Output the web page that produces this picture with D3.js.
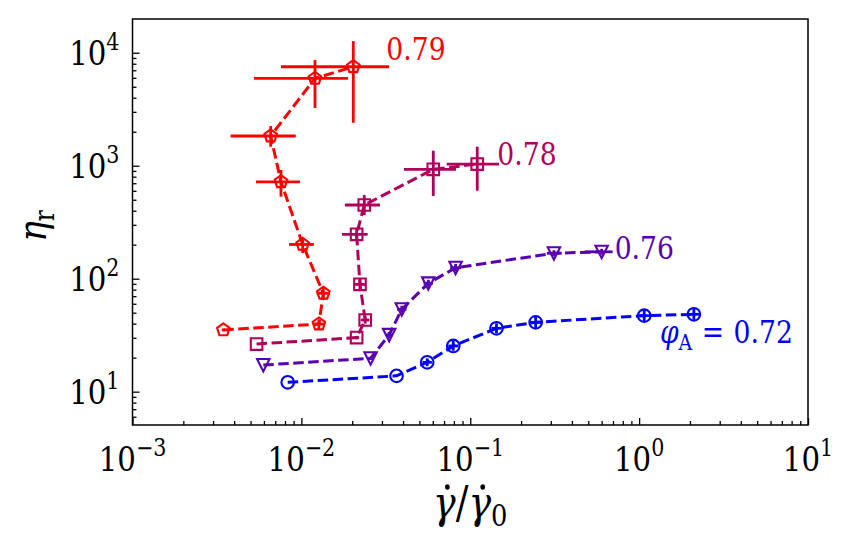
<!doctype html>
<html>
<head>
<meta charset="UTF-8">
<title>eta_r vs shear rate</title>
<style>
	body { margin: 0; background: #fff; }
	svg text { font-family: "DejaVu Serif"; }
	.axis path { display: none; }
	.axis line { stroke: #000; stroke-width: 1.3; }
</style>
</head>
<body>
<script src="https://cdn.jsdelivr.net/npm/d3@7"></script>
<script>
	var w = 850,
		h = 549,
		narrow = 0.86; // DejaVu Serif is wider than the TeX font of the original

	// phi_A = 0.72 (blue circles)
	var rate072 = [0.0083, 0.0366, 0.0556, 0.0793, 0.143, 0.244, 1.072, 2.11];
	var eta072 = [12.1, 13.8, 18.2, 25.4, 36.4, 41.1, 47.1, 48.4];
	var rateLo072 = [0.0083, 0.0366, 0.0522, 0.0741, 0.134, 0.225, 0.985, 1.94];
	var rateHi072 = [0.0083, 0.0366, 0.0593, 0.0849, 0.153, 0.265, 1.165, 2.30];
	var etaLo072 = [12.1, 13.8, 16.8, 23.0, 32.9, 36.6, 42.0, 43.2];
	var etaHi072 = [12.1, 13.8, 19.7, 28.1, 40.3, 46.1, 52.8, 54.3];

	// phi_A = 0.76 (violet down triangles)
	var rate076 = [0.00595, 0.0257, 0.0331, 0.0393, 0.0564, 0.0819, 0.313, 0.600];
	var eta076 = [17.2, 19.75, 31.8, 53.6, 91, 125, 168, 173];
	var rateLo076 = [0.00595, 0.0250, 0.0314, 0.0369, 0.0529, 0.0760, 0.284, 0.477];
	var rateHi076 = [0.00595, 0.0264, 0.0349, 0.0419, 0.0601, 0.0883, 0.348, 0.697];
	var etaLo076 = [17.2, 19.2, 29.9, 49.9, 84.7, 116, 158, 163];
	var etaHi076 = [17.2, 20.3, 33.8, 57.6, 97.8, 135, 179, 184];

	// phi_A = 0.78 (magenta squares)
	var rate078 = [0.00543, 0.02124, 0.02388, 0.02223, 0.02124, 0.02358, 0.0604, 0.110];
	var eta078 = [26.4, 30.1, 43.1, 89.1, 247, 449, 930, 1035];
	var rateLo078 = [0.00543, 0.0205, 0.0225, 0.0205, 0.01739, 0.01811, 0.0405, 0.0725];
	var rateHi078 = [0.00543, 0.0220, 0.0253, 0.0241, 0.0247, 0.0292, 0.0823, 0.148];
	var etaLo078 = [26.4, 29.0, 40.0, 79.4, 220, 366, 540, 601];
	var etaHi078 = [26.4, 31.2, 46.5, 101, 281, 550, 1358, 1473];

	// phi_A = 0.79 (red pentagons)
	var rate079 = [0.00345, 0.0127, 0.01349, 0.01018, 0.00757, 0.00658, 0.01204, 0.0203];
	var eta079 = [35.2, 39.7, 74.3, 201, 721, 1833, 5935, 7516];
	var rateLo079 = [0.00338, 0.01172, 0.01232, 0.00845, 0.00539, 0.00381, 0.00524, 0.00757];
	var rateHi079 = [0.00352, 0.01379, 0.01477, 0.01187, 0.00981, 0.00926, 0.0189, 0.0331];
	var etaLo079 = [34.5, 35.9, 64.8, 168.8, 532, 1473, 3240, 2400];
	var etaHi079 = [36.0, 43.1, 84.4, 230.7, 917, 2244, 8617, 12690];

	var phiLabels = ['0.72', '0.76', '0.78', '0.79'];
	var colors = ['#0000ff', '#5a00b4', '#b0005c', '#ff0000'];
	var markerTypes = ['circle', 'tridown', 'square', 'pentagon'];

	var xMajor = [1e-3, 1e-2, 1e-1, 1e0, 1e1];
	var xMajorExp = ['\u22123', '\u22122', '\u22121', '0', '1'];
	var yMajor = [1e1, 1e2, 1e3, 1e4];
	var yMajorExp = ['1', '2', '3', '4'];

	var series = [
		{rate: rate072, eta: eta072, rLo: rateLo072, rHi: rateHi072, eLo: etaLo072, eHi: etaHi072},
		{rate: rate076, eta: eta076, rLo: rateLo076, rHi: rateHi076, eLo: etaLo076, eHi: etaHi076},
		{rate: rate078, eta: eta078, rLo: rateLo078, rHi: rateHi078, eLo: etaLo078, eHi: etaHi078},
		{rate: rate079, eta: eta079, rLo: rateLo079, rHi: rateHi079, eLo: etaLo079, eHi: etaHi079}
	];
	series.forEach(function(s, i) {
		s.label = phiLabels[i];
		s.color = colors[i];
		s.marker = markerTypes[i];
		s.points = s.rate.map(function(r, j) {
			return {x: r, y: s.eta[j], xlo: s.rLo[j], xhi: s.rHi[j], ylo: s.eLo[j], yhi: s.eHi[j]};
		});
	});

	var plot = {left: 132.5, right: 808, top: 19, bottom: 425};

	var x = d3.scaleLog().domain([1e-3, 1e1]).range([plot.left, plot.right]);
	var y = d3.scaleLog().domain([5.07, 1.99e4]).range([plot.bottom, plot.top]);

	var svg = d3.select('body').append('svg')
		.attr('width', w)
		.attr('height', h);

	// place a text at (px, py), squeezed horizontally
	var at = function(px, py) {
		return 'translate(' + px + ',' + py + ') scale(' + narrow + ',1)';
	};

	// minor tick values
	var minorTicks = function(domain) {
		var out = [];
		var lo = Math.floor(Math.log10(domain[0])),
			hi = Math.ceil(Math.log10(domain[1]));
		for (var e = lo; e < hi; e++) {
			for (var k = 2; k < 10; k++) {
				var v = k * Math.pow(10, e);
				if (v >= domain[0] && v <= domain[1]) out.push(v);
			}
		}
		return out;
	};

	var gx = svg.append('g').attr('class', 'axis').attr('transform', 'translate(0,' + plot.bottom + ')');
	gx.call(d3.axisBottom(x).tickValues(xMajor).tickSize(-7).tickFormat(''));
	gx.append('g').call(d3.axisBottom(x).tickValues(minorTicks(x.domain())).tickSize(-4).tickFormat(''));

	var gy = svg.append('g').attr('class', 'axis').attr('transform', 'translate(' + plot.left + ',0)');
	gy.call(d3.axisLeft(y).tickValues(yMajor).tickSize(-7).tickFormat(''));
	gy.append('g').call(d3.axisLeft(y).tickValues(minorTicks(y.domain())).tickSize(-4).tickFormat(''));

	// tick labels 10^n
	var xl = svg.selectAll('.xlab').data(xMajor).enter().append('text')
		.attr('class', 'xlab')
		.attr('transform', function(d) { return at(x(d), plot.bottom + 46); })
		.attr('text-anchor', 'middle')
		.style('font-size', '34px');
	xl.append('tspan').text('10');
	xl.append('tspan').attr('dy', -15).style('font-size', '24px').text(function(d, i) { return xMajorExp[i]; });

	var yl = svg.selectAll('.ylab').data(yMajor).enter().append('text')
		.attr('class', 'ylab')
		.attr('transform', function(d) { return at(plot.left - 13, y(d) + 12); })
		.attr('text-anchor', 'end')
		.style('font-size', '34px');
	yl.append('tspan').text('10');
	yl.append('tspan').attr('dy', -15).style('font-size', '24px').text(function(d, i) { return yMajorExp[i]; });

	// marker shapes
	var polygon = function(n, r, rot) {
		var pts = d3.range(n).map(function(k) {
			var a = rot + k * 2 * Math.PI / n;
			return [r * Math.sin(a), -r * Math.cos(a)];
		});
		return 'M' + pts.join('L') + 'Z';
	};
	var markerPath = function(type) {
		if (type === 'circle') return d3.symbol().type(d3.symbolCircle).size(Math.PI * 6.3 * 6.3)();
		if (type === 'square') return 'M-5.8,-5.8H5.8V5.8H-5.8Z';
		if (type === 'tridown') return 'M-6.2,-6H6.2L0,6.4Z';
		return polygon(5, 6.6, 0);
	};

	var line = d3.line()
		.x(function(d) { return x(d.x); })
		.y(function(d) { return y(d.y); });

	var gs = svg.selectAll('.series').data(series).enter().append('g').attr('class', 'series');

	gs.append('path')
		.attr('d', function(s) { return line(s.points); })
		.attr('fill', 'none')
		.attr('stroke', function(s) { return s.color; })
		.attr('stroke-width', 3)
		.attr('stroke-dasharray', '10.5,4.5');

	gs.each(function(s) {
		var g = d3.select(this);
		var pts = s.points.filter(function(d) { return d.xhi > d.xlo || d.yhi > d.ylo; });
		g.selectAll('.xerr').data(pts).enter().append('line')
			.attr('x1', function(d) { return x(d.xlo); })
			.attr('x2', function(d) { return x(d.xhi); })
			.attr('y1', function(d) { return y(d.y); })
			.attr('y2', function(d) { return y(d.y); })
			.attr('stroke', s.color).attr('stroke-width', 2.8);
		g.selectAll('.yerr').data(pts).enter().append('line')
			.attr('x1', function(d) { return x(d.x); })
			.attr('x2', function(d) { return x(d.x); })
			.attr('y1', function(d) { return y(d.ylo); })
			.attr('y2', function(d) { return y(d.yhi); })
			.attr('stroke', s.color).attr('stroke-width', 2.8);
		g.selectAll('.mk').data(s.points).enter().append('path')
			.attr('transform', function(d) { return 'translate(' + x(d.x) + ',' + y(d.y) + ')'; })
			.attr('d', markerPath(s.marker))
			.attr('fill', 'none')
			.attr('stroke', s.color)
			.attr('stroke-width', 2.1);
	});

	// phi labels next to the last point of each series
	var labelOffsets = [[-34, 29], [13, 7], [20, 1], [33, -7]];
	gs.append('text')
		.attr('transform', function(s, i) {
			var p = s.points[s.points.length - 1];
			return at(x(p.x) + labelOffsets[i][0], y(p.y) + labelOffsets[i][1]);
		})
		.attr('fill', function(s) { return s.color; })
		.style('font-size', '31px')
		.each(function(s, i) {
			var t = d3.select(this);
			if (i === 0) {
				t.append('tspan').style('font-style', 'italic').text('\u03c6');
				t.append('tspan').attr('dy', 7).style('font-size', '22px').text('A');
				t.append('tspan').attr('dy', -7).attr('dx', 11).text('=');
				t.append('tspan').attr('dx', 11).text(s.label);
			} else {
				t.text(s.label);
			}
		});

	// frame
	svg.append('rect')
		.attr('x', plot.left).attr('y', plot.top)
		.attr('width', plot.right - plot.left).attr('height', plot.bottom - plot.top)
		.attr('fill', 'none').attr('stroke', '#000').attr('stroke-width', 1.5);

	// axis titles
	var xt = svg.append('text')
		.attr('transform', at((plot.left + plot.right) / 2, 518))
		.attr('text-anchor', 'middle')
		.style('font-size', '44px');
	xt.append('tspan').style('font-style', 'italic').text('\u03b3');
	xt.append('tspan').text('/');
	xt.append('tspan').style('font-style', 'italic').text('\u03b3');
	xt.append('tspan').attr('dy', 8).style('font-size', '30px').text('0');

	// dots over the two gammas (same squeezed frame as the title)
	var xtNode = xt.node();
	[0, 2].forEach(function(ci) {
		var a = xtNode.getStartPositionOfChar(ci),
			b = xtNode.getEndPositionOfChar(ci);
		xt.select(function() { return this.parentNode; }).append('circle')
			.attr('transform', at((plot.left + plot.right) / 2, 518))
			.attr('cx', (a.x + b.x) / 2 + 3.5)
			.attr('cy', a.y - 31)
			.attr('r', 2.7)
			.attr('fill', '#000');
	});

	var yt = svg.append('text')
		.attr('transform', 'translate(46,226) rotate(-90) scale(' + narrow + ',1)')
		.attr('text-anchor', 'middle')
		.style('font-size', '40px');
	yt.append('tspan').style('font-style', 'italic').text('\u03b7');
	yt.append('tspan').attr('dy', 8).style('font-size', '27px').text('r');
</script>
</body>
</html>
